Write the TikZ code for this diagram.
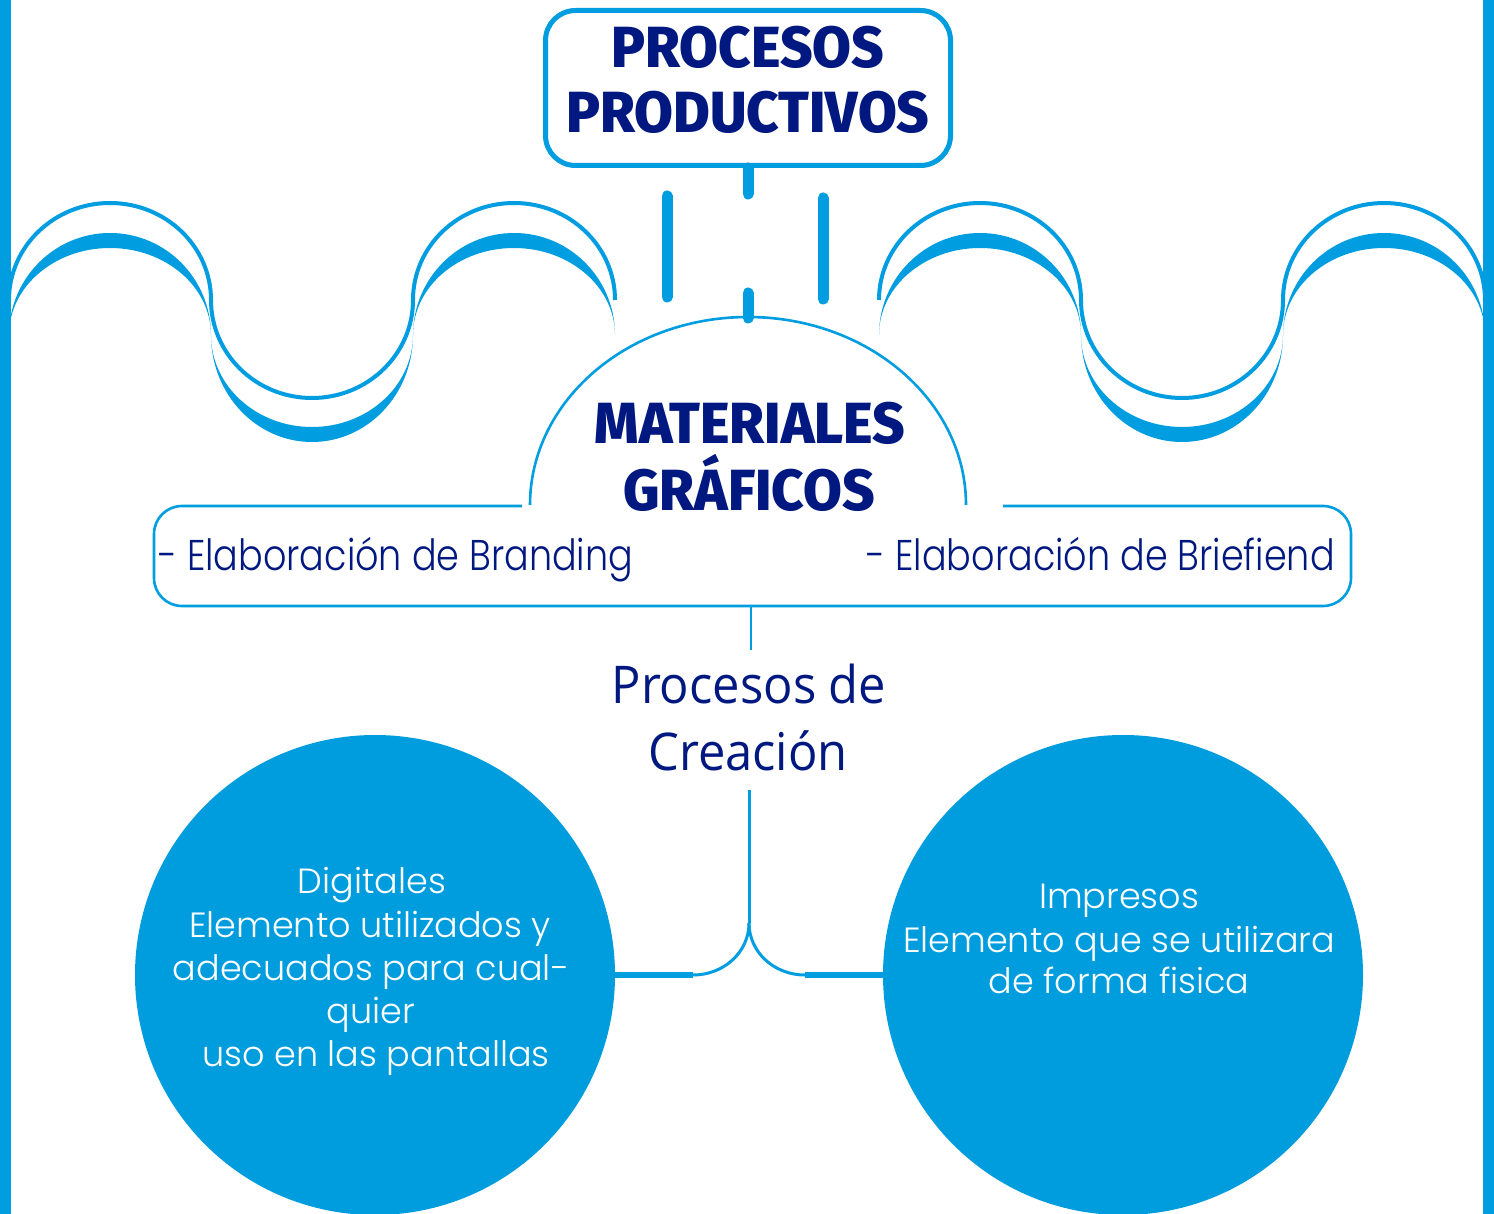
\documentclass[tikz,border=0pt]{standalone}
\usepackage{fontspec}
\IfFontExistsTF{Fira Sans ExtraBold}
  {\newfontfamily\heavyfont{Fira Sans ExtraBold}[FakeStretch=0.97]}
  {\newfontfamily\heavyfontb{Fira Sans}[FakeStretch=0.97]\newcommand\heavyfont{\heavyfontb\bfseries}}
\IfFontExistsTF{Poppins Light}
  {\newfontfamily\thinfont{Poppins Light}[FakeStretch=0.85]
   \newfontfamily\circfont{Poppins Light}}
  {\newfontfamily\thinfont{Poppins}[FakeStretch=0.85]
   \newfontfamily\circfont{Poppins}}
\newfontfamily\creafont{Open Sans}[FakeStretch=0.94]
\definecolor{lineblue}{RGB}{0,158,224}
\definecolor{circblue}{RGB}{0,157,222}
\definecolor{navy}{RGB}{0,24,128}
\newcommand\halfwave[1]{%
  \draw[lineblue, line width=4pt] (9,300)
    arc[start angle=180,end angle=0,x radius=101pt,y radius=97pt]
    arc[start angle=180,end angle=360,x radius=101pt,y radius=98pt]
    arc[start angle=180,end angle=0,x radius=101pt,y radius=97pt];
  \fill[lineblue] (9,335)
    arc[start angle=180,end angle=0,x radius=101pt,y radius=102pt]
    arc[start angle=0,end angle=180,x radius=101pt,y radius=87pt] -- cycle;
  \fill[lineblue] (211,335)
    arc[start angle=180,end angle=360,x radius=101pt,y radius=107pt]
    arc[start angle=360,end angle=180,x radius=101pt,y radius=92pt] -- cycle;
  \fill[lineblue] (413,335)
    arc[start angle=180,end angle=0,x radius=101pt,y radius=102pt]
    arc[start angle=0,end angle=180,x radius=101pt,y radius=87pt] -- cycle;
}
\begin{document}
\begin{tikzpicture}[x=1pt,y=-1pt,
  heavytext/.style={text=navy, inner sep=0pt, font={\heavyfont\fontsize{58}{65}\selectfont}},
  thintext/.style={text=navy, inner sep=0pt, font={\thinfont\fontsize{43}{50}\selectfont}},
  creatext/.style={text=navy, inner sep=0pt, font={\creafont\fontsize{52}{60}\selectfont}},
  circtext/.style={text=white, inner sep=0pt, font={\circfont\fontsize{35}{43}\selectfont}},
  titlebox/.style={draw=lineblue, line width=5pt, rounded corners=30pt, minimum width=405pt, minimum height=155pt, inner sep=0pt},
  bigcirc/.style={circle, fill=circblue, minimum size=480pt, inner sep=0pt},
  dashbar/.style={draw=lineblue, line width=11pt, line cap=round},
  thinline/.style={draw=lineblue, line width=2.6pt},
  link/.style={draw=lineblue, line width=3pt},
  thicklink/.style={draw=lineblue, line width=6pt}]
\useasboundingbox (0,0) rectangle (1494,1214);
\clip (0,0) rectangle (1494,1214);
\fill[white] (0,0) rectangle (1494,1214);
% side borders
\fill[lineblue] (0,0) rectangle (11,1214);
\fill[lineblue] (1483,0) rectangle (1494,1214);
% waves
\begin{scope}
\halfwave{}
\end{scope}
\begin{scope}[shift={(1494,0)}, xscale=-1]
\halfwave{}
\end{scope}
% title
\node[titlebox] (title) at (748,88) {};
\node[heavytext, anchor=base] (t1) at (748,68) {PROCESOS};
\node[heavytext, anchor=base] (t2) at (748,133) {PRODUCTIVOS};
% dashed connector
\coordinate (ca) at (748,194);
\coordinate (cb) at (748,293);
\coordinate (dometop) at (748,318);
\coordinate (la) at (667,196);
\coordinate (lb) at (667,297);
\coordinate (ra) at (823,198);
\coordinate (rb) at (823,299);
\draw[dashbar] (title.south) -- (ca);
\draw[dashbar] (cb) -- (dometop);
\draw[dashbar] (la) -- (lb);
\draw[dashbar] (ra) -- (rb);
% dome
\draw[thinline] (530,505) arc[start angle=180,end angle=0,x radius=218pt,y radius=188pt];
\node[heavytext, anchor=base] (m1) at (750,443) {MATERIALES};
\node[heavytext, anchor=base] (m2) at (749,510) {GRÁFICOS};
% box
\draw[thinline, rounded corners=28pt] (522,506) -- (154,506) -- (154,606) -- (1351,606) -- (1351,506) -- (1003,506);
\coordinate (boxbottom) at (751,606);
\node[thintext, anchor=base west] (brand) at (158,570) {- Elaboración de Branding};
\node[thintext, anchor=base east] (brief) at (1335,570) {- Elaboración de Briefiend};
% procesos de creacion
\coordinate (pctop) at (751,650);
\draw[thinline] (boxbottom) -- (pctop);
\node[creatext, anchor=base] (p1) at (749,703) {Procesos de};
\node[creatext, anchor=base] (p2) at (748,770) {Creación};
% circles
\node[bigcirc] (dig) at (375,975) {};
\node[bigcirc] (imp) at (1123,975) {};
% connector
\coordinate (stem) at (749,790);
\coordinate (split) at (749,923);
\coordinate (lcurve) at (693,975);
\coordinate (rcurve) at (805,975);
\draw[link] (stem) -- (split);
\draw[link] (split) .. controls (749,952) and (724,975) .. (lcurve);
\draw[link] (split) .. controls (749,952) and (774,975) .. (rcurve);
\draw[thicklink] (lcurve) -- (dig.east);
\draw[thicklink] (rcurve) -- (imp.west);
% circle texts
\node[circtext, anchor=base] (d1) at (372,893) {Digitales};
\node[circtext, anchor=base] (d2) at (370,937) {Elemento utilizados y};
\node[circtext, anchor=base] (d3) at (371,980) {adecuados para cual-};
\node[circtext, anchor=base] (d4) at (371,1023) {quier};
\node[circtext, anchor=base] (d5) at (376,1066) {uso en las pantallas};
\node[circtext, anchor=base] (i1) at (1119,908) {Impresos};
\node[circtext, anchor=base] (i2) at (1119,952) {Elemento que se utilizara};
\node[circtext, anchor=base] (i3) at (1119,993) {de forma fisica};
\end{tikzpicture}
\end{document}
